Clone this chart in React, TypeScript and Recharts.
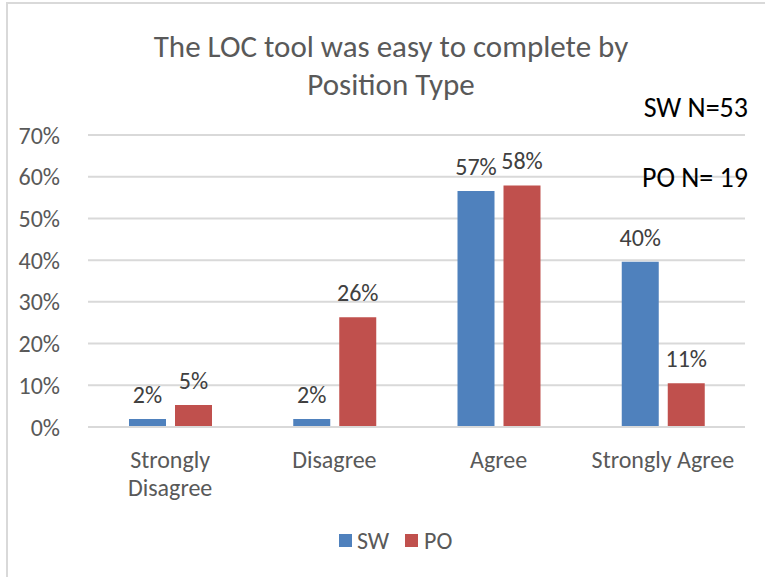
import React from "react";
import { BarChart, Bar, XAxis, YAxis, CartesianGrid, LabelList } from "recharts";

const categories = ["Strongly Disagree", "Disagree", "Agree", "Strongly Agree"];
const categoryLines: string[][] = [["Strongly", "Disagree"], ["Disagree"], ["Agree"], ["Strongly Agree"]];
const swValues = [1.9, 1.9, 56.6, 39.6];
const poValues = [5.3, 26.3, 57.9, 10.5];
const yTicks = [0, 10, 20, 30, 40, 50, 60, 70];
const titleLines = ["The LOC tool was easy to complete by", "Position Type"];
const notes = ["SW N=53", "PO N= 19"];
const seriesNames = ["SW", "PO"];

const data = categories.map((c, i) => ({ name: c, SW: swValues[i], PO: poValues[i] }));

const FONT = "Carlito, Lato, 'Open Sans', sans-serif";
const BLUE = "#4F81BD";
const RED = "#C0504D";

const XTick = (props: any) => {
  const { x, y, payload, index } = props;
  const lines = categoryLines[index] || [payload.value];
  return (
    <g>
      {lines.map((l, i) => (
        <text key={i} x={x} y={y + 33 + i * 28} textAnchor="middle" fontSize={24} fill="#595959" fontFamily={FONT}>
          {l}
        </text>
      ))}
    </g>
  );
};

const ValLabel = (props: any) => {
  const { x, y, width, value } = props;
  return (
    <text x={x + width / 2} y={y - 16} textAnchor="middle" fontSize={24} fill="#404040" fontFamily={FONT}>
      {Math.round(value)}%
    </text>
  );
};

export default function App() {
  return (
    <div style={{ position: "fixed", left: 0, top: 0, width: 765, height: 577, overflow: "hidden", background: "#fff" }}>
      <div style={{ position: "absolute", left: 0, top: 0 }}>
        <BarChart width={765} height={577} data={data} margin={{ top: 135, right: 20, bottom: 120, left: 28 }} barGap={9} barSize={37}>
          <CartesianGrid vertical={false} stroke="#d9d9d9" strokeWidth={2} />
          <YAxis
            width={60}
            domain={[0, 70]}
            ticks={yTicks}
            tickFormatter={(v: number) => `${v}%`}
            axisLine={false}
            tickLine={false}
            tickMargin={22}
            tick={{ fontSize: 24, fill: "#595959", fontFamily: FONT }}
          />
          <XAxis dataKey="name" axisLine={{ stroke: "#d9d9d9", strokeWidth: 2 }} tickLine={false} tick={<XTick />} interval={0} />
          <Bar dataKey="SW" fill={BLUE} isAnimationActive={false}>
            <LabelList dataKey="SW" content={<ValLabel />} />
          </Bar>
          <Bar dataKey="PO" fill={RED} isAnimationActive={false}>
            <LabelList dataKey="PO" content={<ValLabel />} />
          </Bar>
        </BarChart>
      </div>
      <svg style={{ position: "absolute", left: 0, top: 0 }} width={765} height={577}>
        {titleLines.map((t, i) => (
          <text key={i} x={391} y={57 + i * 38} textAnchor="middle" fontSize={31} fill="#595959" fontFamily={FONT}>
            {t}
          </text>
        ))}
        <text x={748} y={117} textAnchor="end" fontSize={28} fill="#000" fontFamily={FONT}>{notes[0]}</text>
        <text x={748} y={187} textAnchor="end" fontSize={28} fill="#000" fontFamily={FONT}>{notes[1]}</text>
        <rect x={339} y={534} width={13} height={13} fill={BLUE} />
        <text x={357} y={549} fontSize={24} fill="#595959" fontFamily={FONT}>{seriesNames[0]}</text>
        <rect x={405} y={534} width={13} height={13} fill={RED} />
        <text x={424} y={549} fontSize={24} fill="#595959" fontFamily={FONT}>{seriesNames[1]}</text>
      </svg>
      <div style={{ position: "absolute", left: 6, top: 2, width: 800, height: 700, borderLeft: "2px solid #d9d9d9", borderTop: "2px solid #d9d9d9" }} />
    </div>
  );
}
